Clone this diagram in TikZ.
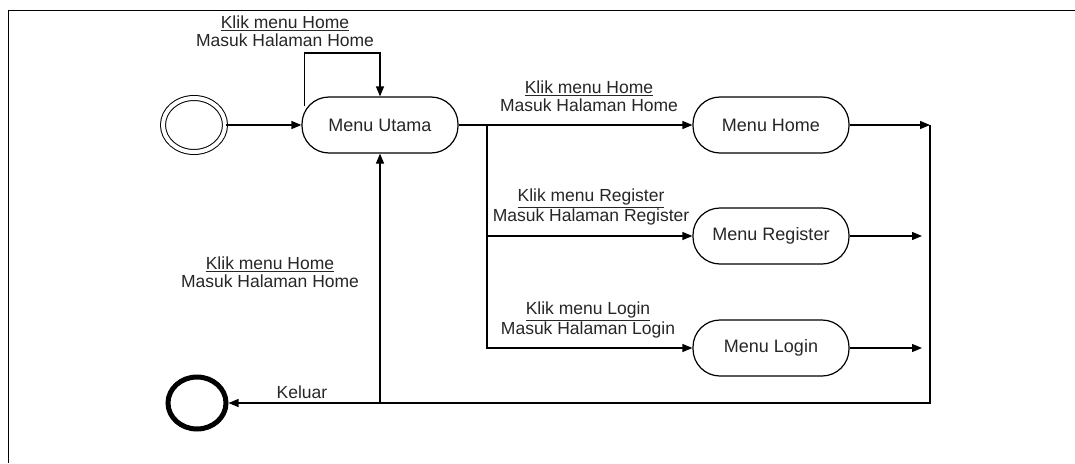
\documentclass[tikz,border=0pt]{standalone}
\usepackage{fontspec}
\setmainfont{Liberation Sans}
\usetikzlibrary{arrows.meta,shapes.geometric}
\begin{document}
\begin{tikzpicture}[x=1pt,y=-1pt,
  line width=1.2pt,
  arr/.style={-{Triangle[length=10pt,width=8pt]}},
  state/.style={draw,rectangle,rounded corners=27pt,minimum width=156pt,minimum height=56pt,inner sep=0pt,font=\fontsize{18}{20}\selectfont,text=black!85},
  lbl/.style={align=center,inner sep=0pt,font=\fontsize{17.5}{18}\selectfont,text=black!85}]
\useasboundingbox (0,0) rectangle (1075,463);
% frame
\draw[line width=1pt] (1075,10) -- (8,10) -- (8,463);
% nodes
\node[draw,ellipse,minimum width=62pt,minimum height=54pt,double,double distance=4pt,line width=1pt] (start) at (194,125) {};
\node[state] (mu) at (380,125) {Menu Utama};
\node[state] (mh) at (771,125) {Menu Home};
\node[state] (mr) at (771,236) {Menu Register};
\node[state] (ml) at (771,348) {Menu Login};
\node[draw,ellipse,line width=5pt,minimum width=58pt,minimum height=52pt] (end) at (197,403) {};
% coordinates
\coordinate (lpB) at (380,53);
\coordinate (br) at (487,125);
\coordinate (rt) at (930,125);
\coordinate (rr) at (922,236);
\coordinate (rl) at (922,348);
\coordinate (up) at (380,403);
% connectors
\draw[arr] (start) -- (mu);
\draw[arr] ([xshift=3pt,yshift=-10pt]mu.north west) |- (lpB) -- (mu.north);
\draw[arr] (mu) -- (mh);
\draw[arr] (br) |- (ml);
\draw[arr] (br |- mr) -- (mr);
\draw[arr] (mh) -- (rt);
\draw[arr] (mr) -- (rr);
\draw[arr] (ml) -- (rl);
\draw[arr] (rt) |- (end);
\draw[arr] (up) -- (mu);
% labels
\node[lbl] (t1) at (285,31) {\underline{Klik menu Home}\\Masuk Halaman Home};
\node[lbl] (t2) at (589,96) {\underline{Klik menu Home}\\Masuk Halaman Home};
\node[lbl] (t3) at (591,207) {\underline{Klik menu Register}\\Masuk Halaman Register};
\node[lbl] (t4) at (588,320) {\underline{Klik menu Login}\\Masuk Halaman Login};
\node[lbl] (t5) at (270,272) {\underline{Klik menu Home}\\Masuk Halaman Home};
\node[lbl] (t6) at (302,392) {Keluar};
\end{tikzpicture}
\end{document}
